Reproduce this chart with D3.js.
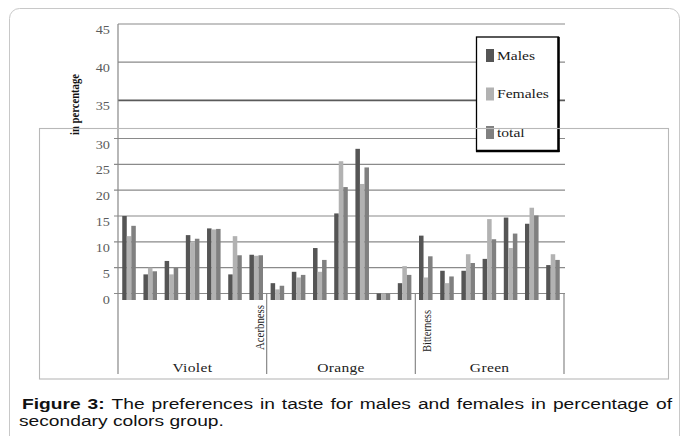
<!DOCTYPE html>
<html><head><meta charset="utf-8">
<script src="https://cdn.jsdelivr.net/npm/d3@7"></script>
<style>
html,body{margin:0;padding:0;background:#fff;}
svg{display:block;}
</style></head>
<body>
<svg id="chart" width="683" height="436"></svg>
<script>
// ---- data ----
const categories = ["Violet", "Orange", "Green"];
const series = ["Males", "Females", "total"];
const males   = [15.0, 3.7, 6.3, 11.3, 12.6, 3.7, 7.5,   2.0, 4.2, 8.8, 15.5, 28.0, 0, 2.0,   11.2, 4.4, 4.4, 6.7, 14.7, 13.5, 5.5];
const females = [11.1, 5.0, 3.7, 9.9, 12.4, 11.1, 7.3,   0.8, 3.1, 4.2, 25.6, 21.2, 0, 5.3,   3.1, 2.0, 7.6, 14.4, 8.8, 16.6, 7.6];
const total   = [13.1, 4.3, 5.0, 10.6, 12.5, 7.4, 7.4,   1.5, 3.6, 6.5, 20.6, 24.4, 0, 3.6,   7.2, 3.3, 5.9, 10.5, 11.6, 15.1, 6.5];
const yTicks = [0, 5, 10, 15, 20, 25, 30, 35, 40, 45];
const sideLabels = ["Acerbness", "Bitterness"];
const yTitle = "in percentage";
const captionBold = "Figure 3:";
const captionLine1 = "The preferences in taste for males and females in percentage of";
const captionLine2 = "secondary colors group.";

const colors = {"Males": "#555555", "Females": "#b2b2b2", "total": "#808080"};
const valuesBySeries = {"Males": males, "Females": females, "total": total};

const svg = d3.select("#chart");

// outer frame
svg.append("rect").attr("x", 9.5).attr("y", 8.5).attr("width", 670).attr("height", 440)
  .attr("rx", 10).attr("fill", "none").attr("stroke", "#c8c8c8").attr("stroke-width", 1);

// scales
const left = 118, right = 564;
const y = d3.scaleLinear().domain([0, 30, 45]).range([293.5, 138.5, 24]);
const groupIdx = d3.range(males.length);
const x = d3.scaleBand().domain(groupIdx).range([left, right]).paddingInner(0.36).paddingOuter(0.2);
const xs = d3.scaleBand().domain(series).range([0, x.bandwidth()]);
const catX = d3.scaleLinear().domain([0, categories.length]).range([left, right]);

// gridlines
svg.append("g").selectAll("line").data(yTicks).join("line")
  .attr("x1", d => d <= 30 ? left - 4 : left).attr("x2", 565)
  .attr("y1", d => y(d)).attr("y2", d => y(d))
  .attr("stroke", d => d === 35 ? "#5a5a5a" : "#8a8a8a")
  .attr("stroke-width", d => d === 35 ? 1.6 : 1.2);

// tick labels
svg.append("g").selectAll("text").data(yTicks).join("text")
  .attr("transform", d => `translate(110,${y(d) + 10}) scale(1.1,1)`)
  .attr("text-anchor", "end")
  .attr("font-family", "Liberation Serif, serif").attr("font-size", 13)
  .attr("fill", "#5c5c5c").text(d => d);

// y axis line
svg.append("line").attr("x1", left).attr("x2", left).attr("y1", y(45)).attr("y2", 374)
  .attr("stroke", "#888").attr("stroke-width", 1.2);

// category separators
svg.append("g").selectAll("line").data(d3.range(1, categories.length + 1)).join("line")
  .attr("x1", d => catX(d)).attr("x2", d => catX(d))
  .attr("y1", y(0)).attr("y2", 374)
  .attr("stroke", "#888").attr("stroke-width", 1.2);

// bars
const baseY = y(0) + 6.5;
const gBars = svg.append("g");
series.forEach(s => {
  gBars.append("g").selectAll("rect").data(valuesBySeries[s]).join("rect")
    .attr("x", (d, i) => x(i) + xs(s))
    .attr("width", xs.bandwidth())
    .attr("y", d => y(d))
    .attr("height", d => baseY - y(d))
    .attr("fill", colors[s]);
});

// category labels
svg.append("g").selectAll("text").data(categories).join("text")
  .attr("transform", (d, i) => `translate(${(catX(i) + catX(i + 1)) / 2},371.5) scale(1.15,1)`)
  .attr("text-anchor", "middle")
  .attr("font-family", "Liberation Serif, serif").attr("font-size", 13.5)
  .attr("letter-spacing", 0.3)
  .attr("fill", "#222").text(d => d);

// side rotated labels
svg.append("text")
  .attr("transform", `translate(${catX(1) - 3},350) rotate(-90)`)
  .attr("font-family", "Liberation Serif, serif").attr("font-size", 12)
  .attr("textLength", 45).attr("lengthAdjust", "spacingAndGlyphs")
  .attr("fill", "#222").text(sideLabels[0]);
svg.append("text")
  .attr("transform", `translate(${catX(2) + 16},352) rotate(-90)`)
  .attr("font-family", "Liberation Serif, serif").attr("font-size", 12)
  .attr("textLength", 42).attr("lengthAdjust", "spacingAndGlyphs")
  .attr("fill", "#222").text(sideLabels[1]);

// y title
svg.append("text")
  .attr("transform", "translate(79,135) rotate(-90)")
  .attr("font-family", "Liberation Serif, serif").attr("font-size", 12.5).attr("font-weight", "bold")
  .attr("textLength", 61).attr("lengthAdjust", "spacingAndGlyphs")
  .attr("fill", "#111").text(yTitle);

// legend
const lg = svg.append("g");
lg.append("rect").attr("x", 476.5).attr("y", 37).attr("width", 82).attr("height", 114)
  .attr("fill", "#fff").attr("stroke", "#000").attr("stroke-width", 1.3);
lg.append("line").attr("x1", 558.5).attr("x2", 558.5).attr("y1", 37).attr("y2", 152)
  .attr("stroke", "#000").attr("stroke-width", 2.5);
lg.append("line").attr("x1", 476).attr("x2", 559.5).attr("y1", 151).attr("y2", 151)
  .attr("stroke", "#000").attr("stroke-width", 2.5);
series.forEach((s, i) => {
  const yy = 49 + i * 38.5;
  lg.append("rect").attr("x", 486).attr("y", yy).attr("width", 8).attr("height", 13).attr("fill", colors[s]);
  lg.append("text").attr("transform", `translate(497,${yy + 10.5}) scale(1.2,1)`)
    .attr("font-family", "Liberation Serif, serif").attr("font-size", 13)
    .attr("fill", "#1a1a1a").text(s);
});

// overlay rectangle
svg.append("rect").attr("x", 39.5).attr("y", 128.5).attr("width", 629).attr("height", 250.5)
  .attr("fill", "none").attr("stroke", "#b8b8b8").attr("stroke-width", 1.1);

// caption
const capSX = 1.24, capFS = 15.5;
const boldWords = captionBold.split(" ");
const allWords = [...boldWords, ...captionLine1.split(" ")];
const cap = svg.append("g");
const measured = allWords.map((w, i) => {
  const t = cap.append("text").attr("font-family", "Liberation Sans, Arial, sans-serif")
    .attr("font-size", capFS).attr("font-weight", i < boldWords.length ? "bold" : "normal")
    .attr("fill", "#111").text(w);
  return {t, w: t.node().getComputedTextLength() * capSX};
});
const x0 = 22, x1 = 672;
const sumW = d3.sum(measured, m => m.w);
const gap = (x1 - x0 - sumW) / (measured.length - 1);
let cx = x0;
measured.forEach(m => {
  m.t.attr("transform", `translate(${cx},408.5) scale(${capSX},1)`);
  cx += m.w + gap;
});
cap.append("text").attr("transform", `translate(19,425.5) scale(${capSX},1)`)
  .attr("font-family", "Liberation Sans, Arial, sans-serif").attr("font-size", capFS)
  .attr("fill", "#111").text(captionLine2);
</script>
</body></html>
